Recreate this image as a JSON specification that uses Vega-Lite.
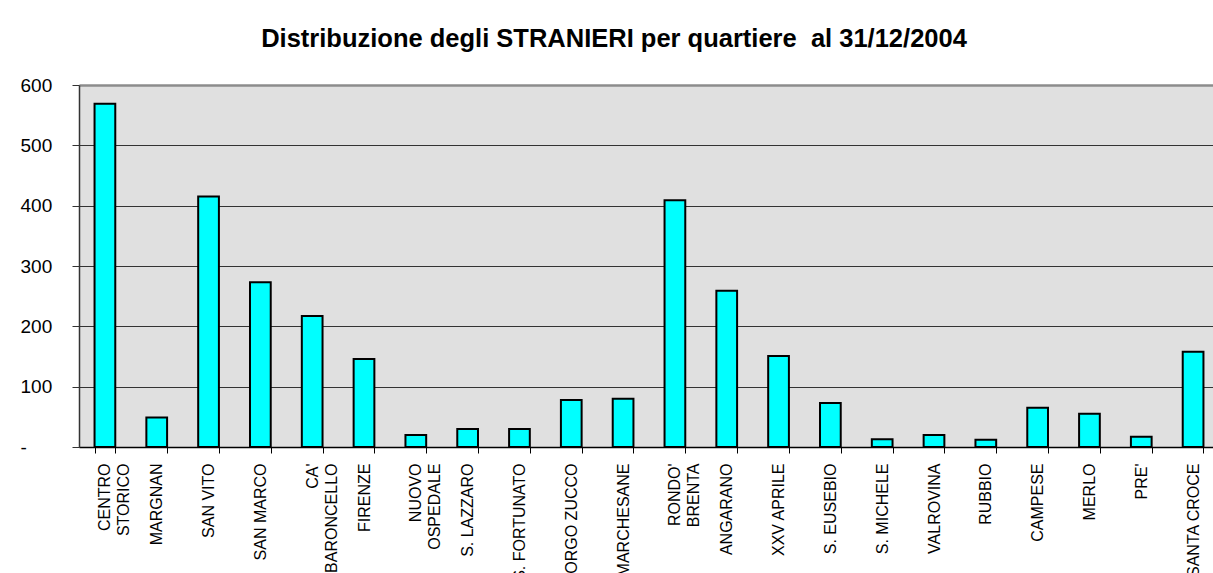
{
  "$schema": "https://vega.github.io/schema/vega-lite/v6.json",
  "autosize": "none",
  "padding": {"left": 79, "top": 85, "right": 0, "bottom": 126},
  "width": 1134,
  "height": 362,
  "background": "white",
  "title": {
    "text": "Distribuzione degli STRANIERI per quartiere \u00a0al 31/12/2004",
    "font": "Liberation Sans",
    "fontSize": 25.5,
    "fontWeight": "bold",
    "color": "black",
    "anchor": "middle",
    "frame": "group",
    "baseline": "alphabetic",
    "offset": 4,
    "dx": -32
  },
  "data": {
    "values": [
      {"quartiere": "CENTRO|STORICO", "stranieri": 569},
      {"quartiere": "MARGNAN", "stranieri": 49},
      {"quartiere": "SAN VITO", "stranieri": 415},
      {"quartiere": "SAN MARCO", "stranieri": 273},
      {"quartiere": "CA'|BARONCELLO", "stranieri": 217},
      {"quartiere": "FIRENZE", "stranieri": 146},
      {"quartiere": "NUOVO|OSPEDALE", "stranieri": 20},
      {"quartiere": "S. LAZZARO", "stranieri": 30},
      {"quartiere": "S. FORTUNATO", "stranieri": 30},
      {"quartiere": "BORGO ZUCCO", "stranieri": 78},
      {"quartiere": "MARCHESANE", "stranieri": 80},
      {"quartiere": "RONDO'|BRENTA", "stranieri": 409},
      {"quartiere": "ANGARANO", "stranieri": 259},
      {"quartiere": "XXV APRILE", "stranieri": 151},
      {"quartiere": "S. EUSEBIO", "stranieri": 73},
      {"quartiere": "S. MICHELE", "stranieri": 13},
      {"quartiere": "VALROVINA", "stranieri": 20},
      {"quartiere": "RUBBIO", "stranieri": 12},
      {"quartiere": "CAMPESE", "stranieri": 65},
      {"quartiere": "MERLO", "stranieri": 55},
      {"quartiere": "PRE'", "stranieri": 17},
      {"quartiere": "SANTA CROCE", "stranieri": 158}
    ]
  },
  "mark": {"type": "bar", "fill": "#00FFFF", "stroke": "black", "strokeWidth": 2},
  "encoding": {
    "x": {
      "field": "quartiere",
      "type": "nominal",
      "sort": null,
      "scale": {"range": [0, 1140], "paddingInner": 0.6, "paddingOuter": 0.3},
      "axis": {
        "title": null,
        "labelAngle": -90,
        "labelAlign": "right",
        "labelBaseline": "middle",
        "labelFont": "Liberation Sans",
        "labelFontSize": 16,
        "labelColor": "black",
        "labelLineHeight": 19,
        "labelPadding": 10,
        "labelExpr": "split(datum.label, '|')",
        "tickBand": "extent",
        "tickSize": 6,
        "tickColor": "black",
        "domainColor": "black",
        "domainWidth": 1.5,
        "labelOverlap": false
      }
    },
    "y": {
      "field": "stranieri",
      "type": "quantitative",
      "scale": {"domain": [0, 600], "nice": false},
      "axis": {
        "title": null,
        "values": [0, 100, 200, 300, 400, 500, 600],
        "labelExpr": "datum.value == 0 ? '\u00a0\u00a0-' : datum.label",
        "labelAlign": "left",
        "labelPadding": 52,
        "labelFont": "Liberation Sans",
        "labelFontSize": 19,
        "labelColor": "black",
        "tickSize": 7,
        "tickColor": "#333333",
        "domainColor": "#333333",
        "domainWidth": 1.5,
        "grid": true,
        "gridColor": {"condition": {"test": "datum.value == 600", "value": "#8c8c8c"}, "value": "#333333"},
        "gridWidth": {"condition": {"test": "datum.value == 600", "value": 2.5}, "value": 1}
      }
    }
  },
  "config": {
    "view": {"stroke": null, "fill": "#E0E0E0"}
  }
}
